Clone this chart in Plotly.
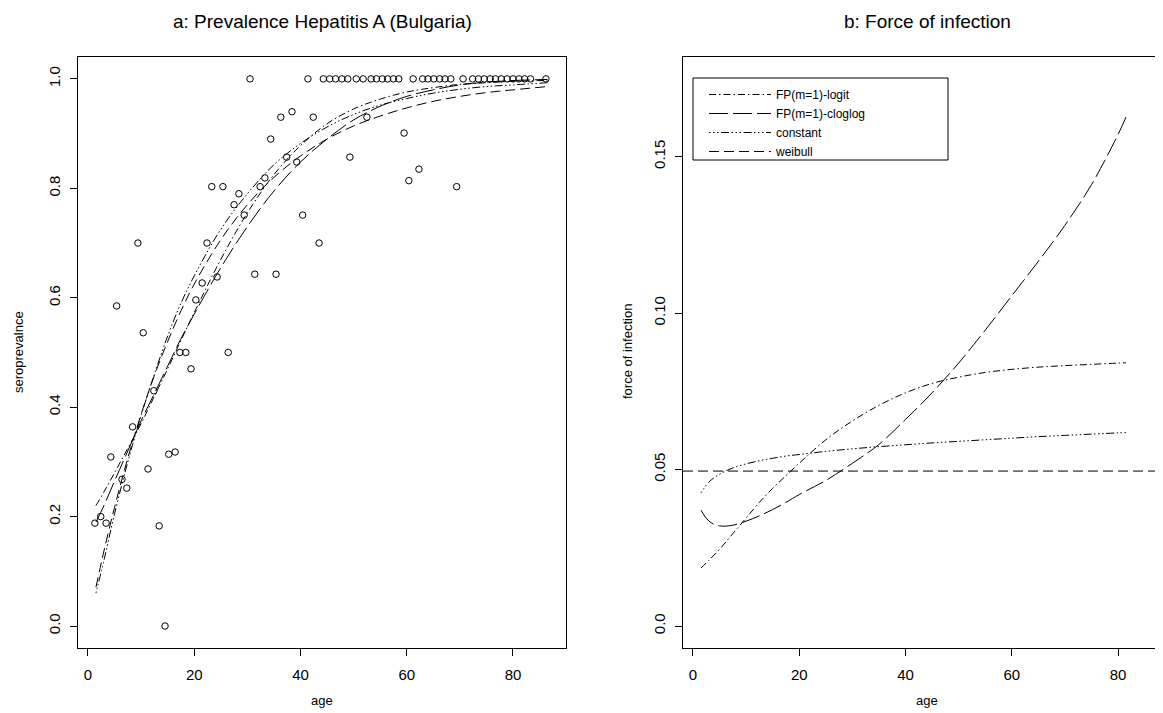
import plotly.graph_objects as go

# ---------------- data ----------------
obs_age = [1.3, 2.4, 3.4, 4.3, 5.4, 6.4, 7.3, 8.4, 9.4, 10.4, 11.3, 12.4, 13.4, 14.5,
           15.2, 16.4, 17.3, 18.4, 19.4, 20.3, 21.5, 22.4, 23.3, 24.3, 25.4, 26.4,
           27.5, 28.4, 29.4, 30.5, 31.4, 32.4, 33.3, 34.4, 35.4, 36.3, 37.4, 38.4,
           39.3, 40.4, 41.4, 42.4, 43.5, 44.3, 45.5, 46.6, 47.8, 48.9, 49.3, 50.5,
           51.8, 52.5, 53.3, 54.3, 55.4, 56.4, 57.5, 58.5, 59.5, 60.4, 61.2, 62.3,
           63.0, 64.0, 65.1, 66.2, 67.2, 68.3, 69.4, 70.6, 72.4, 73.5, 74.6, 75.7,
           76.7, 77.8, 78.9, 80.0, 81.1, 82.2, 83.3, 86.2]
obs_prev = [0.188, 0.200, 0.188, 0.309, 0.585, 0.268, 0.252, 0.364, 0.700, 0.536,
            0.287, 0.430, 0.183, 0.000, 0.314, 0.318, 0.500, 0.500, 0.470, 0.596,
            0.627, 0.700, 0.803, 0.638, 0.803, 0.500, 0.770, 0.790, 0.751, 1.000,
            0.643, 0.803, 0.819, 0.890, 0.643, 0.930, 0.857, 0.940, 0.848, 0.751,
            1.000, 0.930, 0.700, 1.000, 1.000, 1.000, 1.000, 1.000, 0.857, 1.000,
            1.000, 0.930, 1.000, 1.000, 1.000, 1.000, 1.000, 1.000, 0.901, 0.814,
            1.000, 0.835, 1.000, 1.000, 1.000, 1.000, 1.000, 1.000, 0.803, 1.000,
            1.000, 1.000, 1.000, 1.000, 1.000, 1.000, 1.000, 1.000, 1.000, 1.000,
            1.000, 1.000]

fit_age = [1.5, 3, 5, 7.5, 10, 12.5, 15, 17.5, 20, 25, 30, 35, 40, 45, 50, 55,
           60, 65, 70, 75, 80, 86.5]

prev_fp_logit = [0.22, 0.245, 0.28, 0.325, 0.37, 0.42, 0.47, 0.522, 0.573, 0.67,
                 0.755, 0.825, 0.878, 0.918, 0.945, 0.963, 0.976, 0.984, 0.99,
                 0.993, 0.9955, 0.9972]
prev_fp_cloglog = [0.19, 0.22, 0.265, 0.32, 0.375, 0.425, 0.475, 0.525, 0.57, 0.655,
                   0.73, 0.795, 0.848, 0.89, 0.925, 0.95, 0.968, 0.98, 0.989,
                   0.994, 0.997, 0.999]
prev_constant = [0.06, 0.12, 0.205, 0.3, 0.385, 0.46, 0.53, 0.59, 0.64, 0.725,
                 0.79, 0.843, 0.882, 0.912, 0.935, 0.952, 0.964, 0.974, 0.981,
                 0.986, 0.989, 0.993]
prev_weibull = [0.071, 0.137, 0.217, 0.307, 0.387, 0.458, 0.52, 0.576, 0.625, 0.706,
                0.77, 0.82, 0.859, 0.89, 0.914, 0.932, 0.947, 0.959, 0.968, 0.975,
                0.98, 0.986]

foi_age = [1.5, 3, 5, 7.5, 10, 12.5, 15, 17.5, 20, 25, 30, 35, 40, 45, 50, 55,
           60, 65, 70, 75, 80, 81.5]
foi_fp_logit = [0.0185, 0.021, 0.0245, 0.0295, 0.0345, 0.0395, 0.044, 0.048, 0.052,
                0.0595, 0.0655, 0.0705, 0.0745, 0.0775, 0.0795, 0.081, 0.082,
                0.0827, 0.0832, 0.0836, 0.084, 0.0841]
foi_fp_cloglog = [0.037, 0.0335, 0.032, 0.0322, 0.0335, 0.0352, 0.0372, 0.0395,
                  0.042, 0.0465, 0.052, 0.058, 0.066, 0.0745, 0.084, 0.0945, 0.1055,
                  0.1165, 0.128, 0.141, 0.157, 0.1626]
foi_constant = [0.0425, 0.046, 0.0485, 0.0505, 0.0518, 0.0528, 0.0536, 0.0543,
                0.0548, 0.0558, 0.0566, 0.0573, 0.0579, 0.0585, 0.059, 0.0595,
                0.06, 0.0605, 0.0609, 0.0613, 0.0617, 0.0618]
foi_weibull_age = [-1.88, 88.47]
foi_weibull = [0.0495, 0.0495]

legend_names = ["FP(m=1)-logit", "FP(m=1)-cloglog", "constant", "weibull"]
dash_styles = ["7px,3px,1.5px,3px", "19px,5px",
               "1.5px,2.5px,1.5px,2.5px,1.5px,2.5px,8px,2.5px", "10px,5px"]

x_ticks = [0, 20, 40, 60, 80]
y1_ticks = [0, 0.2, 0.4, 0.6, 0.8, 1.0]
y1_text = ["0.0", "0.2", "0.4", "0.6", "0.8", "1.0"]
y2_ticks = [0, 0.05, 0.10, 0.15]
y2_text = ["0.0", "0.05", "0.10", "0.15"]

# ---------------- figure ----------------
OFF = 8                     # page body margin of the browser
W, H = 1163 - OFF, 713 - OFF
FONT = "Liberation Sans, Arial, sans-serif"


def px_x(p):
    return (p - OFF) / W


def px_y(p):
    return (H - (p - OFF)) / H


fig = go.Figure()

fig.add_trace(go.Scatter(
    x=obs_age, y=obs_prev, mode="markers", showlegend=False,
    marker=dict(symbol="circle-open", size=6.5, color="black",
                line=dict(width=1, color="black")),
    xaxis="x", yaxis="y"))

prev_curves = [prev_fp_logit, prev_fp_cloglog, prev_constant, prev_weibull]
for vals, dash in zip(prev_curves, dash_styles):
    fig.add_trace(go.Scatter(
        x=fit_age, y=vals, mode="lines", showlegend=False, line_shape="spline",
        line=dict(color="black", width=1, dash=dash), xaxis="x", yaxis="y"))

foi_curves = [(foi_age, foi_fp_logit), (foi_age, foi_fp_cloglog),
              (foi_age, foi_constant), (foi_weibull_age, foi_weibull)]
for (xs, vals), dash, name in zip(foi_curves, dash_styles, legend_names):
    fig.add_trace(go.Scatter(
        x=xs, y=vals, mode="lines", name=name, line_shape="spline",
        line=dict(color="black", width=1, dash=dash), xaxis="x2", yaxis="y2"))

axis_common = dict(showline=True, linecolor="black", linewidth=1, ticks="outside",
                   ticklen=7, tickwidth=1, tickcolor="black", showgrid=False,
                   zeroline=False,
                   tickfont=dict(family=FONT, size=15, color="black"))


def ann(text, x, y, size, angle=0):
    return dict(text=text, x=px_x(x), y=px_y(y), xref="paper", yref="paper",
                xanchor="center", yanchor="middle", showarrow=False,
                textangle=angle, font=dict(family=FONT, size=size, color="black"))


fig.update_layout(
    width=W, height=H, margin=dict(l=0, r=0, t=0, b=0),
    paper_bgcolor="white", plot_bgcolor="white",
    font=dict(family=FONT, color="black"),
    xaxis=dict(domain=[px_x(78), px_x(566)], range=[-1.88, 89.98], anchor="y",
               tickvals=x_ticks, mirror=True, ticklabelstandoff=6, **axis_common),
    yaxis=dict(domain=[px_y(648), px_y(57)], range=[-0.0402, 1.040], anchor="x",
               tickvals=y1_ticks, ticktext=y1_text, tickangle=-90, mirror=True,
               ticklabelstandoff=4, **axis_common),
    xaxis2=dict(domain=[px_x(683), 1.0], range=[-1.88, 88.47], anchor="y2",
                tickvals=x_ticks, mirror=True, ticklabelstandoff=6, **axis_common),
    yaxis2=dict(domain=[px_y(648), px_y(57)], range=[-0.00703, 0.1818], anchor="x2",
                tickvals=y2_ticks, ticktext=y2_text, tickangle=-90, mirror=False,
                ticklabelstandoff=4, **axis_common),
    legend=dict(x=px_x(704), y=px_y(80), xanchor="left", yanchor="top",
                borderwidth=0, bgcolor="rgba(0,0,0,0)",
                font=dict(family=FONT, size=12, color="black"),
                tracegroupgap=0, itemwidth=62),
    shapes=[dict(type="rect", xref="paper", yref="paper",
                 x0=px_x(693), x1=px_x(948), y0=px_y(160), y1=px_y(78),
                 line=dict(color="black", width=1))],
    annotations=[
        ann("a: Prevalence Hepatitis A (Bulgaria)", 322, 21, 19),
        ann("b: Force of infection", 927, 21, 19),
        ann("age", 322, 700, 13),
        ann("age", 927, 700, 13),
        ann("seroprevalnce", 18, 352, 13, -90),
        ann("force of infection", 627, 352, 13, -90),
    ],
)

fig.write_html("out.html")
